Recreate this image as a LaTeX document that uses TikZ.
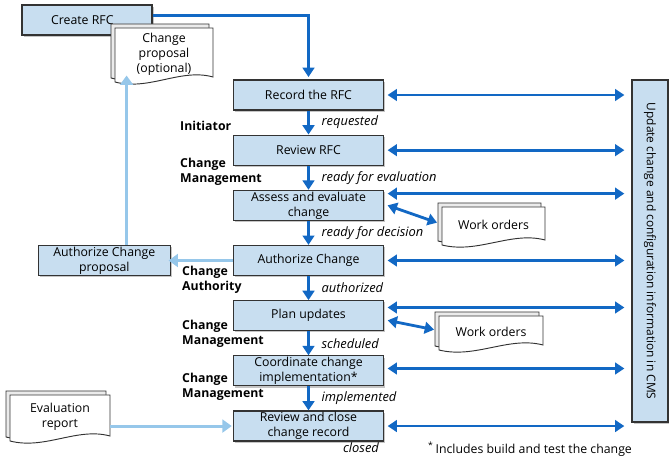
\documentclass[tikz,border=0pt]{standalone}
\usepackage{fontspec}
\setmainfont{Open Sans}
\usepackage{tikz}
\usetikzlibrary{calc}
\usetikzlibrary{arrows.meta}
\usetikzlibrary{positioning}
\usetikzlibrary{shadows}
\definecolor{BoxBlue}{RGB}{200,222,240}
\definecolor{FlowBlue}{RGB}{18,104,196}
\definecolor{PaleBlue}{RGB}{150,199,234}

% stacked document: name, x, y, half width, half height, text
\newcommand{\docstack}[6]{%
  \begin{scope}[shift={(#2,#3)}]
    \filldraw [backsheet, shift={(-4,-4)}] (-#4,-#5) -- (#4,-#5) -- (#4,#5-3)
        .. controls +(-0.66*#4,-9) and +(0.7*#4,9) .. (-#4,#5+2) -- cycle;
    \filldraw [docsheet] (-#4,-#5) -- (#4,-#5) -- (#4,#5-3)
        .. controls +(-0.66*#4,-9) and +(0.7*#4,9) .. (-#4,#5+2) -- cycle;
  \end{scope}
  \node [doctext, minimum width=#4*0.06cm, minimum height=#5*0.06cm] (#1) at (#2,#3) {#6};
}

\begin{document}
\begin{tikzpicture}[x=0.03cm, y=-0.03cm, node distance=0.72cm,
 every node/.style = {font=\fontsize{10.5}{12.8}\selectfont},
 box/.style = {draw=black!80, line width=1pt, fill=BoxBlue, minimum width=4.5cm,
               minimum height=0.9cm, inner sep=1pt, align=center,
               drop shadow={shadow xshift=1.5pt, shadow yshift=-1.5pt, fill=black!45}},
 docsheet/.style = {draw=black!80, line width=0.8pt, fill=white},
 backsheet/.style = {docsheet, fill=black!8},
 doctext/.style = {inner sep=0pt, align=center},
 state/.style = {font=\fontsize{11}{13}\selectfont\itshape, inner sep=1pt},
 role/.style = {font=\fontsize{10.5}{12.5}\selectfont\bfseries, align=left,
                inner sep=0pt, anchor=west},
 flow/.style = {draw=FlowBlue, line width=2.4pt, -{Triangle[length=8pt,width=10pt]}},
 biflow/.style = {flow, {Triangle[length=8pt,width=10pt]}-{Triangle[length=8pt,width=10pt]}},
 pale/.style = {draw=PaleBlue, line width=2.6pt, -{Triangle[length=8pt,width=11pt]}},
                        ]
    \useasboundingbox (0,0) rectangle (669,461);

    % main column
    \node [box] (record) at (308.5,95) {Record the RFC};
    \node [box, below=of record] (review) {Review RFC};
    \node [box, below=of review] (assess) {Assess and evaluate\\change};
    \node [box, below=of assess] (authorize) {Authorize Change};
    \node [box, below=of authorize] (plan) {Plan updates};
    \node [box, below=of plan] (coord) {Coordinate change\\implementation*};
    \node [box, below=of coord] (closing) {Review and close\\change record};

    % left side
    \node [box, minimum width=3.9cm] (create) at (87,20) {Create RFC\hspace{8pt}};
    \docstack{proposal}{164}{54}{49}{26}{Change\\proposal\\(optional)}
    \node [box, minimum width=3.96cm, left=1.86cm of authorize] (authprop) {Authorize Change\\proposal};
    \docstack{evalrep}{60}{417}{50}{22}{Evaluation\\report}

    % right side
    \node [box, minimum width=1.08cm, minimum height=10.26cm] (cms) at (650,251) {};
    \node [rotate=-90, font=\fontsize{10.2}{12}\selectfont] at (cms) {Update change and configuration information in CMS};
    \docstack{work1}{493.5}{225}{51.5}{18}{Work orders}
    \docstack{work2}{491}{332}{52}{16}{Work orders}

    % roles
    \node [role] (initiator) at (180,126) {Initiator};
    \node [role] (role1) at (180,172) {Change\\Management};
    \node [role] (role2) at (182,280) {Change\\Authority};
    \node [role] (role3) at (182,333.5) {Change\\Management};
    \node [role] (role4) at (182,386.5) {Change\\Management};

    \node [state] (closed) at (361,448) {closed};
    \node [anchor=west, inner sep=0pt] (note) at (428,449) {\textsuperscript{*}\,Includes build and test the change};

    % flow
    \draw [flow, shorten >=2pt] ([yshift=4pt]create.east) -| (record.north);
    \path (record) edge [flow] node [state, right=9pt] {requested} (review)
          (review) edge [flow] node [state, right=9pt] {ready for evaluation} (assess)
          (assess) edge [flow] node [state, right=9pt] {ready for decision} (authorize)
          (authorize) edge [flow] node [state, right=9pt] {authorized} (plan)
          (plan) edge [flow] node [state, right=9pt] {scheduled} (coord)
          (coord) edge [flow] node [state, right=9pt] {implemented} (closing);

    \draw [pale] (authorize.west) -- ([xshift=-2pt]authprop.east);
    \draw [pale, shorten >=-4pt] ([xshift=19pt]authprop.north) -- ([xshift=19pt]authprop.north |- proposal.south);
    \draw [pale, shorten >=1pt] (closing.west -| evalrep.east) -- (closing.west);

    % CMS updates
    \foreach \n/\dy in {record/0, review/0, assess/10, authorize/0, plan/7, coord/2, closing/0}
        \draw [biflow] ([xshift=3pt, yshift=\dy pt]\n.east) -- ([xshift=-6pt, yshift=\dy pt]\n.east -| cms.west);

    \draw [biflow] ([xshift=3pt]assess.east) -- ([xshift=-4pt, yshift=2pt]work1.west);
    \draw [biflow] ([xshift=3pt, yshift=-4pt]plan.east) -- ([xshift=-4pt, yshift=2pt]work2.west);

\end{tikzpicture}
\end{document}
